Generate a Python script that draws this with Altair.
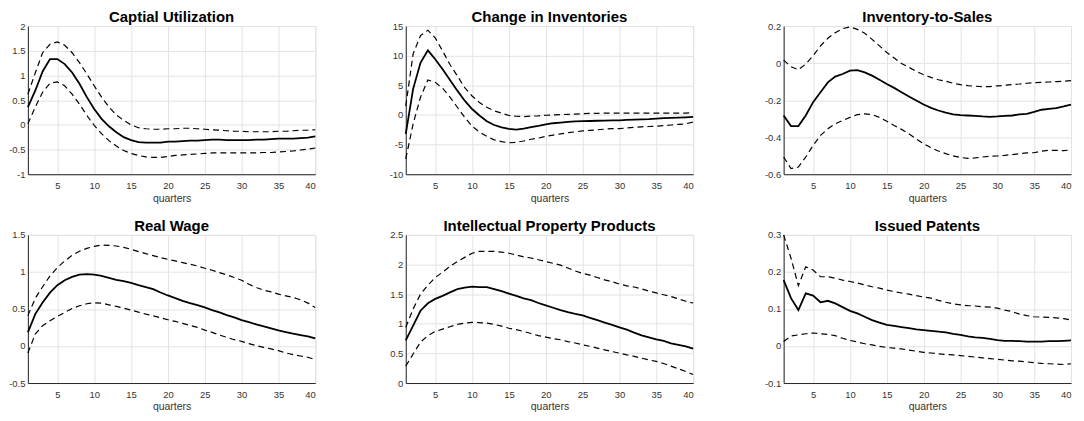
import altair as alt
import pandas as pd

quarters = list(range(1, 41))

titles = ["Captial Utilization", "Change in Inventories", "Inventory-to-Sales",
          "Real Wage", "Intellectual Property Products", "Issued Patents"]

y_domains = [[-1, 2], [-10, 15], [-0.6, 0.2], [-0.5, 1.5], [0, 2.5], [-0.1, 0.3]]
y_ticks = [[-1, -0.5, 0, 0.5, 1, 1.5, 2],
           [-10, -5, 0, 5, 10, 15],
           [-0.6, -0.4, -0.2, 0, 0.2],
           [-0.5, 0, 0.5, 1, 1.5],
           [0, 0.5, 1, 1.5, 2, 2.5],
           [-0.1, 0, 0.1, 0.2, 0.3]]
x_ticks = [5, 10, 15, 20, 25, 30, 35, 40]

# Capital Utilization
cu_med = [0.36, 0.69, 1.08, 1.33, 1.33, 1.23, 1.06, 0.83, 0.56, 0.32,
          0.12, -0.03, -0.15, -0.25, -0.31, -0.35, -0.36, -0.36, -0.36, -0.34,
          -0.34, -0.33, -0.32, -0.32, -0.31, -0.30, -0.30, -0.31, -0.31, -0.31,
          -0.31, -0.30, -0.30, -0.29, -0.28, -0.28, -0.28, -0.27, -0.26, -0.235]
cu_hi = [0.62, 1.05, 1.46, 1.63, 1.68, 1.61, 1.46, 1.26, 1.03, 0.79,
         0.56, 0.36, 0.20, 0.09, 0.00, -0.06, -0.08, -0.09, -0.09, -0.08,
         -0.08, -0.07, -0.07, -0.08, -0.09, -0.10, -0.11, -0.12, -0.13, -0.13,
         -0.14, -0.14, -0.14, -0.14, -0.13, -0.13, -0.12, -0.11, -0.11, -0.10]
cu_lo = [0.02, 0.36, 0.66, 0.84, 0.87, 0.79, 0.62, 0.42, 0.19, -0.01,
         -0.18, -0.32, -0.43, -0.52, -0.58, -0.62, -0.65, -0.66, -0.66, -0.64,
         -0.62, -0.61, -0.60, -0.59, -0.58, -0.57, -0.57, -0.57, -0.57, -0.57,
         -0.57, -0.57, -0.56, -0.56, -0.55, -0.54, -0.53, -0.51, -0.49, -0.47]

# Change in Inventories
ci_med = [-3.2, 4.4, 8.8, 10.9, 9.4, 7.7, 5.9, 4.1, 2.4, 1.0,
          -0.1, -1.06, -1.7, -2.1, -2.35, -2.46, -2.3, -2.07, -1.85, -1.6,
          -1.4, -1.28, -1.17, -1.1, -1.06, -1.02, -0.98, -0.95, -0.92, -0.9,
          -0.85, -0.8, -0.75, -0.7, -0.62, -0.55, -0.5, -0.45, -0.4, -0.33]
ci_hi = [1.5, 10.3, 13.4, 14.3, 13.0, 10.8, 8.5, 6.6, 4.6, 3.2,
         2.1, 1.3, 0.7, 0.3, -0.1, -0.22, -0.28, -0.2, -0.15, -0.05,
         0.0, 0.05, 0.1, 0.15, 0.2, 0.25, 0.28, 0.3, 0.3, 0.3,
         0.3, 0.3, 0.3, 0.3, 0.3, 0.3, 0.3, 0.3, 0.32, 0.35]
ci_lo = [-7.4, -1.5, 3.0, 5.9, 5.5, 4.5, 3.0, 1.3, -0.4, -1.9,
         -2.9, -3.6, -4.2, -4.5, -4.7, -4.6, -4.4, -4.1, -3.9, -3.6,
         -3.4, -3.2, -3.0, -2.85, -2.7, -2.6, -2.5, -2.4, -2.3, -2.3,
         -2.2, -2.1, -2.0, -1.95, -1.9, -1.8, -1.7, -1.6, -1.5, -1.2]

# Inventory-to-Sales
is_med = [-0.283, -0.34, -0.34, -0.283, -0.211, -0.157, -0.104, -0.073, -0.059, -0.041,
          -0.038, -0.05, -0.068, -0.09, -0.113, -0.134, -0.157, -0.18, -0.202, -0.224,
          -0.242, -0.256, -0.267, -0.277, -0.281, -0.283, -0.285, -0.288, -0.29, -0.288,
          -0.285, -0.283, -0.277, -0.274, -0.263, -0.252, -0.247, -0.243, -0.234, -0.224]
is_hi = [0.016, -0.02, -0.036, -0.005, 0.04, 0.093, 0.134, 0.164, 0.186, 0.195,
         0.182, 0.161, 0.128, 0.093, 0.057, 0.027, -0.002, -0.023, -0.045, -0.063,
         -0.077, -0.09, -0.098, -0.109, -0.116, -0.122, -0.125, -0.127, -0.127, -0.123,
         -0.12, -0.116, -0.113, -0.109, -0.106, -0.104, -0.102, -0.1, -0.098, -0.095]
is_lo = [-0.507, -0.57, -0.561, -0.507, -0.445, -0.39, -0.355, -0.328, -0.31, -0.293,
         -0.278, -0.274, -0.278, -0.293, -0.314, -0.337, -0.358, -0.382, -0.409, -0.436,
         -0.457, -0.475, -0.489, -0.501, -0.51, -0.514, -0.512, -0.507, -0.503, -0.501,
         -0.498, -0.494, -0.489, -0.485, -0.484, -0.476, -0.471, -0.471, -0.473, -0.469]

# Real Wage
rw_med = [0.184, 0.43, 0.587, 0.72, 0.82, 0.888, 0.933, 0.964, 0.969, 0.964,
          0.946, 0.919, 0.892, 0.874, 0.852, 0.821, 0.794, 0.767, 0.722, 0.682,
          0.646, 0.61, 0.579, 0.552, 0.52, 0.484, 0.453, 0.417, 0.386, 0.35,
          0.323, 0.291, 0.265, 0.238, 0.211, 0.188, 0.166, 0.148, 0.13, 0.103]
rw_hi = [0.41, 0.643, 0.8, 0.946, 1.058, 1.148, 1.224, 1.278, 1.318, 1.345,
         1.363, 1.359, 1.35, 1.332, 1.305, 1.274, 1.247, 1.22, 1.193, 1.17,
         1.148, 1.126, 1.103, 1.081, 1.049, 1.022, 0.991, 0.96, 0.924, 0.888,
         0.834, 0.789, 0.753, 0.731, 0.70, 0.677, 0.655, 0.623, 0.579, 0.52]
rw_lo = [-0.094, 0.161, 0.274, 0.341, 0.399, 0.453, 0.507, 0.543, 0.57, 0.583,
         0.578, 0.556, 0.534, 0.511, 0.484, 0.457, 0.43, 0.408, 0.381, 0.354,
         0.332, 0.305, 0.278, 0.251, 0.215, 0.184, 0.148, 0.117, 0.085, 0.063,
         0.031, 0.004, -0.018, -0.04, -0.063, -0.094, -0.117, -0.135, -0.152, -0.184]

# Intellectual Property Products
ip_med = [0.72, 0.97, 1.22, 1.345, 1.42, 1.47, 1.53, 1.585, 1.61, 1.625,
          1.62, 1.62, 1.585, 1.55, 1.51, 1.47, 1.43, 1.40, 1.35, 1.31,
          1.27, 1.23, 1.195, 1.165, 1.14, 1.10, 1.06, 1.02, 0.98, 0.94,
          0.90, 0.85, 0.805, 0.77, 0.735, 0.71, 0.67, 0.645, 0.62, 0.58]
ip_hi = [0.94, 1.25, 1.50, 1.65, 1.78, 1.87, 1.97, 2.05, 2.12, 2.19,
         2.22, 2.22, 2.22, 2.21, 2.19, 2.16, 2.13, 2.11, 2.08, 2.05,
         2.02, 1.99, 1.94, 1.89, 1.85, 1.82, 1.78, 1.74, 1.71, 1.67,
         1.64, 1.62, 1.59, 1.55, 1.52, 1.49, 1.46, 1.42, 1.38, 1.35]
ip_lo = [0.285, 0.49, 0.69, 0.80, 0.87, 0.91, 0.95, 0.99, 1.01, 1.025,
         1.02, 1.01, 0.99, 0.96, 0.925, 0.90, 0.87, 0.835, 0.80, 0.775,
         0.75, 0.73, 0.70, 0.675, 0.645, 0.62, 0.59, 0.56, 0.53, 0.505,
         0.475, 0.45, 0.42, 0.39, 0.365, 0.33, 0.285, 0.24, 0.195, 0.145]

# Issued Patents
ipat_med = [0.178, 0.129, 0.097, 0.142, 0.136, 0.118, 0.122, 0.115, 0.105, 0.095,
            0.088, 0.079, 0.07, 0.063, 0.057, 0.054, 0.051, 0.048, 0.045, 0.043,
            0.041, 0.039, 0.037, 0.033, 0.03, 0.026, 0.023, 0.022, 0.019, 0.016,
            0.014, 0.014, 0.013, 0.012, 0.012, 0.012, 0.013, 0.013, 0.014, 0.015]
ipat_hi = [0.30, 0.237, 0.163, 0.214, 0.205, 0.187, 0.187, 0.183, 0.178, 0.174,
           0.17, 0.165, 0.16, 0.156, 0.151, 0.147, 0.143, 0.14, 0.136, 0.132,
           0.129, 0.123, 0.118, 0.114, 0.111, 0.109, 0.108, 0.106, 0.105, 0.102,
           0.097, 0.093, 0.086, 0.082, 0.079, 0.078, 0.077, 0.076, 0.074, 0.07]
ipat_lo = [0.012, 0.027, 0.03, 0.033, 0.035, 0.033, 0.031, 0.028, 0.021, 0.015,
           0.011, 0.006, 0.003, -0.001, -0.004, -0.006, -0.008, -0.011, -0.014, -0.017,
           -0.019, -0.021, -0.023, -0.024, -0.026, -0.028, -0.03, -0.032, -0.034, -0.036,
           -0.038, -0.04, -0.041, -0.043, -0.045, -0.047, -0.048, -0.049, -0.05, -0.048]

series = [(cu_med, cu_lo, cu_hi), (ci_med, ci_lo, ci_hi), (is_med, is_lo, is_hi),
          (rw_med, rw_lo, rw_hi), (ip_med, ip_lo, ip_hi), (ipat_med, ipat_lo, ipat_hi)]

FONT = "Liberation Sans"
W, H = 289, 149

charts = []
for title, dom, ticks, (med, lo, hi) in zip(titles, y_domains, y_ticks, series):
    df_med = pd.DataFrame({"q": quarters, "v": med})
    df_band = pd.concat([
        pd.DataFrame({"q": quarters, "v": lo, "s": "lower"}),
        pd.DataFrame({"q": quarters, "v": hi, "s": "upper"}),
    ])
    x = alt.X("q:Q", title="quarters",
              scale=alt.Scale(domain=[1, 40], nice=False, zero=False),
              axis=alt.Axis(values=x_ticks))
    y = alt.Y("v:Q", title=None,
              scale=alt.Scale(domain=dom, nice=False, zero=False),
              axis=alt.Axis(values=ticks, labelExpr="'' + datum.value"))
    band = alt.Chart(df_band).mark_line(color="black", strokeWidth=1.2,
                                        strokeDash=[6, 4]).encode(x=x, y=y, detail="s:N")
    line = alt.Chart(df_med).mark_line(color="black", strokeWidth=1.8).encode(x=x, y=y)
    charts.append(alt.layer(band, line).properties(
        width=W, height=H,
        title=alt.TitleParams(title, fontSize=15, font=FONT, fontWeight="bold",
                              color="black", offset=-4, frame="group")))

chart = alt.concat(*charts, columns=3, spacing={"row": 61, "column": 91},
                   bounds="flush").properties(padding=0).configure_view(
    stroke="#dedede", strokeWidth=1
).configure_axis(
    labelFont=FONT, labelFontSize=9.5, labelColor="#333333",
    titleFont=FONT, titleFontSize=10.5, titleColor="#333333", titleFontWeight="normal",
    gridColor="#e3e3e3", gridWidth=1,
    domainColor="#262626", domainWidth=1,
    ticks=False,
).configure_axisX(labelPadding=6.5, titlePadding=3).configure_axisY(
    labelPadding=3, minExtent=0)

chart.save("out.html", embed_options={"renderer": "svg", "actions": False})
